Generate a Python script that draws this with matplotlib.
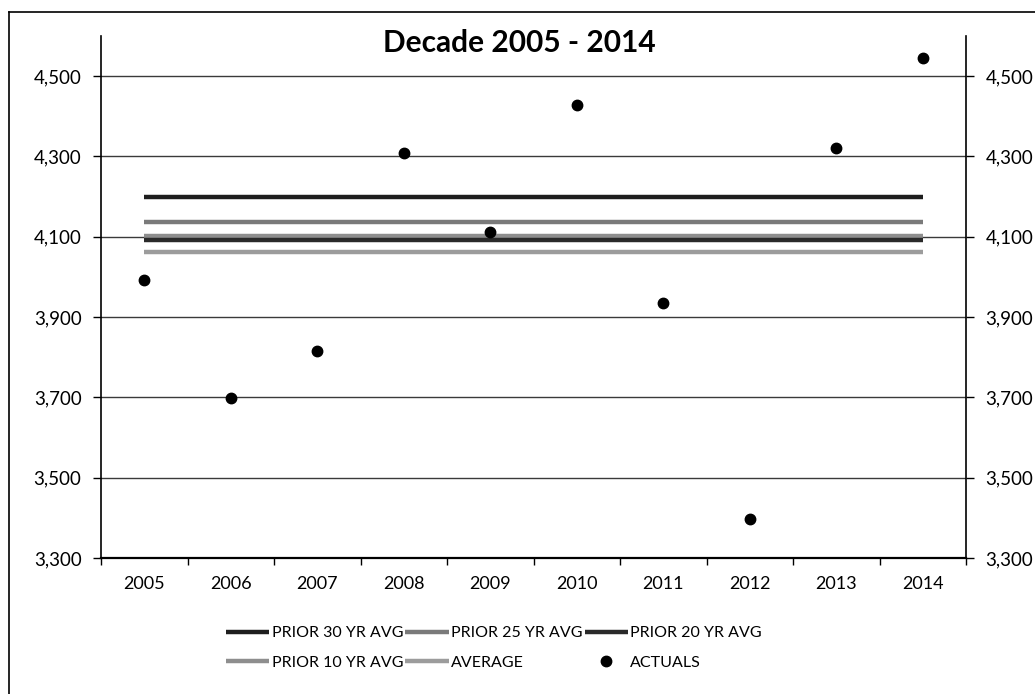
import matplotlib
matplotlib.use('Agg')
import matplotlib.pyplot as plt
from matplotlib.lines import Line2D
import numpy as np

plt.rcParams['font.family'] = ['Lato', 'DejaVu Sans']

years = ['2005', '2006', '2007', '2008', '2009',
         '2010', '2011', '2012', '2013', '2014']
actuals = [3992, 3698, 3816, 4308, 4111, 4428, 3935, 3397, 4322, 4546]

avg_names = ['PRIOR 30 YR AVG', 'PRIOR 25 YR AVG', 'PRIOR 20 YR AVG',
             'PRIOR 10 YR AVG', 'AVERAGE']
avg_values = [4198, 4138, 4092, 4102, 4061]
avg_colors = ['#1e1e1e', '#7a7a7a', '#2a2a2a', '#8e8e8e', '#9c9c9c']

y_ticks = [3300, 3500, 3700, 3900, 4100, 4300, 4500]

W, H = 1035, 694
fig = plt.figure(figsize=(W / 100, H / 100), dpi=100)
ax = fig.add_axes([101 / W, 1 - 558 / H, (966 - 101) / W, (558 - 36) / H])

x = np.arange(len(years))

# grid lines drawn first so the series sit on top
for t in y_ticks:
    ax.axhline(t, color='#3a3a3a', lw=1.0, zorder=1)

handles = {}
order = [3, 1, 0, 2, 4]  # draw lighter ones under the dark ones
for i in order:
    ln, = ax.plot([x[0], x[-1]], [avg_values[i]] * 2, color=avg_colors[i],
                  lw=3.2, solid_capstyle='butt', zorder=3)
    handles[avg_names[i]] = ln
pts, = ax.plot(x, actuals, 'o', color='black', ms=7.5, ls='none', zorder=4)

ax.set_xlim(-0.5, len(years) - 0.5)
ax.set_ylim(3300, 4600)

ax.set_yticks(y_ticks)
ax.set_yticklabels(['{:,}'.format(t) for t in y_ticks])
ax.tick_params(axis='y', which='major', direction='out', length=6,
               width=1, labelsize=13.5, pad=8, right=True, labelright=True,
               color='black')

ax.set_xticks(np.arange(-0.5, len(years)), minor=False)
ax.set_xticklabels([])
ax.set_xticks(x, minor=True)
ax.set_xticklabels(years, minor=True)
ax.tick_params(axis='x', which='major', direction='out', length=5, width=1)
ax.tick_params(axis='x', which='minor', length=0, labelsize=13, pad=13)

for side in ['left', 'right']:
    ax.spines[side].set_linewidth(1.2)
ax.spines['top'].set_visible(False)
ax.spines['bottom'].set_linewidth(1.6)

fig.text(519 / W, 1 - 43 / H, 'Decade 2005 - 2014', ha='center',
         va='center', fontsize=21.5, fontweight='bold')

leg_handles = [handles['PRIOR 30 YR AVG'], handles['PRIOR 10 YR AVG'],
               handles['PRIOR 25 YR AVG'], handles['AVERAGE'],
               handles['PRIOR 20 YR AVG'], pts]
leg_labels = ['PRIOR 30 YR AVG', 'PRIOR 10 YR AVG', 'PRIOR 25 YR AVG',
              'AVERAGE', 'PRIOR 20 YR AVG', 'ACTUALS']
fig.legend(leg_handles, leg_labels, ncol=3, loc='upper left',
           bbox_to_anchor=(226 / W, 1 - 626 / H), frameon=False,
           fontsize=11.5, handlelength=2.7, handletextpad=0.15,
           columnspacing=0.15, borderpad=0, borderaxespad=0,
           labelspacing=0.95)

# outer chart border (only left and top survive in the scan)
fig.add_artist(Line2D([9 / W, 9 / W], [0, 1 - 12 / H], color='black',
                      lw=1.2, transform=fig.transFigure))
fig.add_artist(Line2D([9 / W, 1], [1 - 12 / H, 1 - 12 / H], color='black',
                      lw=1.2, transform=fig.transFigure))

fig.savefig('out.png', dpi=100)
